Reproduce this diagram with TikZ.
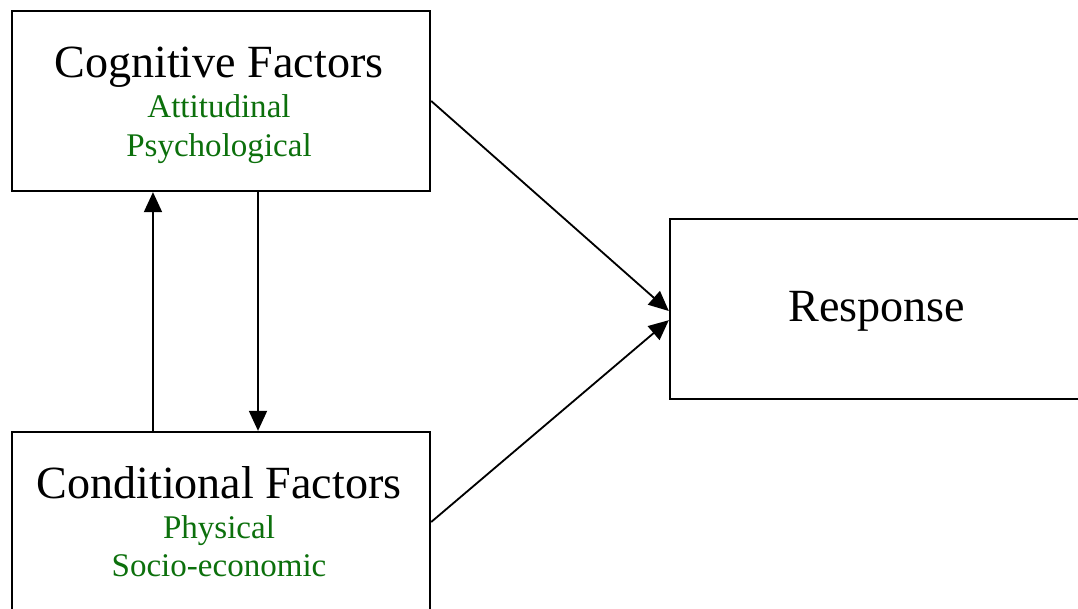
\documentclass[tikz,border=0pt]{standalone}
\usepackage{fontspec}
\setmainfont{Liberation Serif}
\usetikzlibrary{positioning,arrows.meta}
\definecolor{subgreen}{RGB}{12,112,12}
\tikzset{
  factorbox/.style = {draw, line width = 1.6pt, shape = rectangle, minimum width = 10.45cm, minimum height = 4.5cm},
  headtext/.style = {font = \fontsize{32.8}{39}\selectfont, anchor = base, inner sep = 0pt},
  subtext/.style = {font = \fontsize{23.5}{28}\selectfont, text = subgreen, anchor = base, inner sep = 0pt},
  link/.style = {line width = 1.3pt, -{Triangle[length = 0.5cm, width = 0.45cm]}}
}

\begin{document}
\begin{tikzpicture}[x = 0.025cm, y = -0.025cm]
\useasboundingbox (0,0) rectangle (1078,609);
\clip (0,0) rectangle (1078,609);
\node[factorbox] (10) at (221,101) {};
\node[factorbox] (20) at (221,522) {};
\node[factorbox] (30) at (879,309) {};
\node[headtext] (11) at (219,78) {Cognitive Factors};
\node[subtext] (12) at (219,118) {Attitudinal};
\node[subtext] (13) at (219,157) {Psychological};
\node[headtext] (21) at (219,498) {Conditional Factors};
\node[subtext] (22) at (219,538) {Physical};
\node[subtext] (23) at (219,576) {Socio-economic};
\node[headtext] (31) at (877,322) {Response};
\draw[link] ([xshift = -1.7cm]20.north) -- ([xshift = -1.7cm]10.south);
\draw[link] ([xshift = 0.925cm]10.south) -- ([xshift = 0.925cm]20.north);
\draw[link] (10.east) -- ([yshift = -0.05cm]30.west);
\draw[link] (20.east) -- ([yshift = -0.28cm]30.west);
\end{tikzpicture}
\end{document}
